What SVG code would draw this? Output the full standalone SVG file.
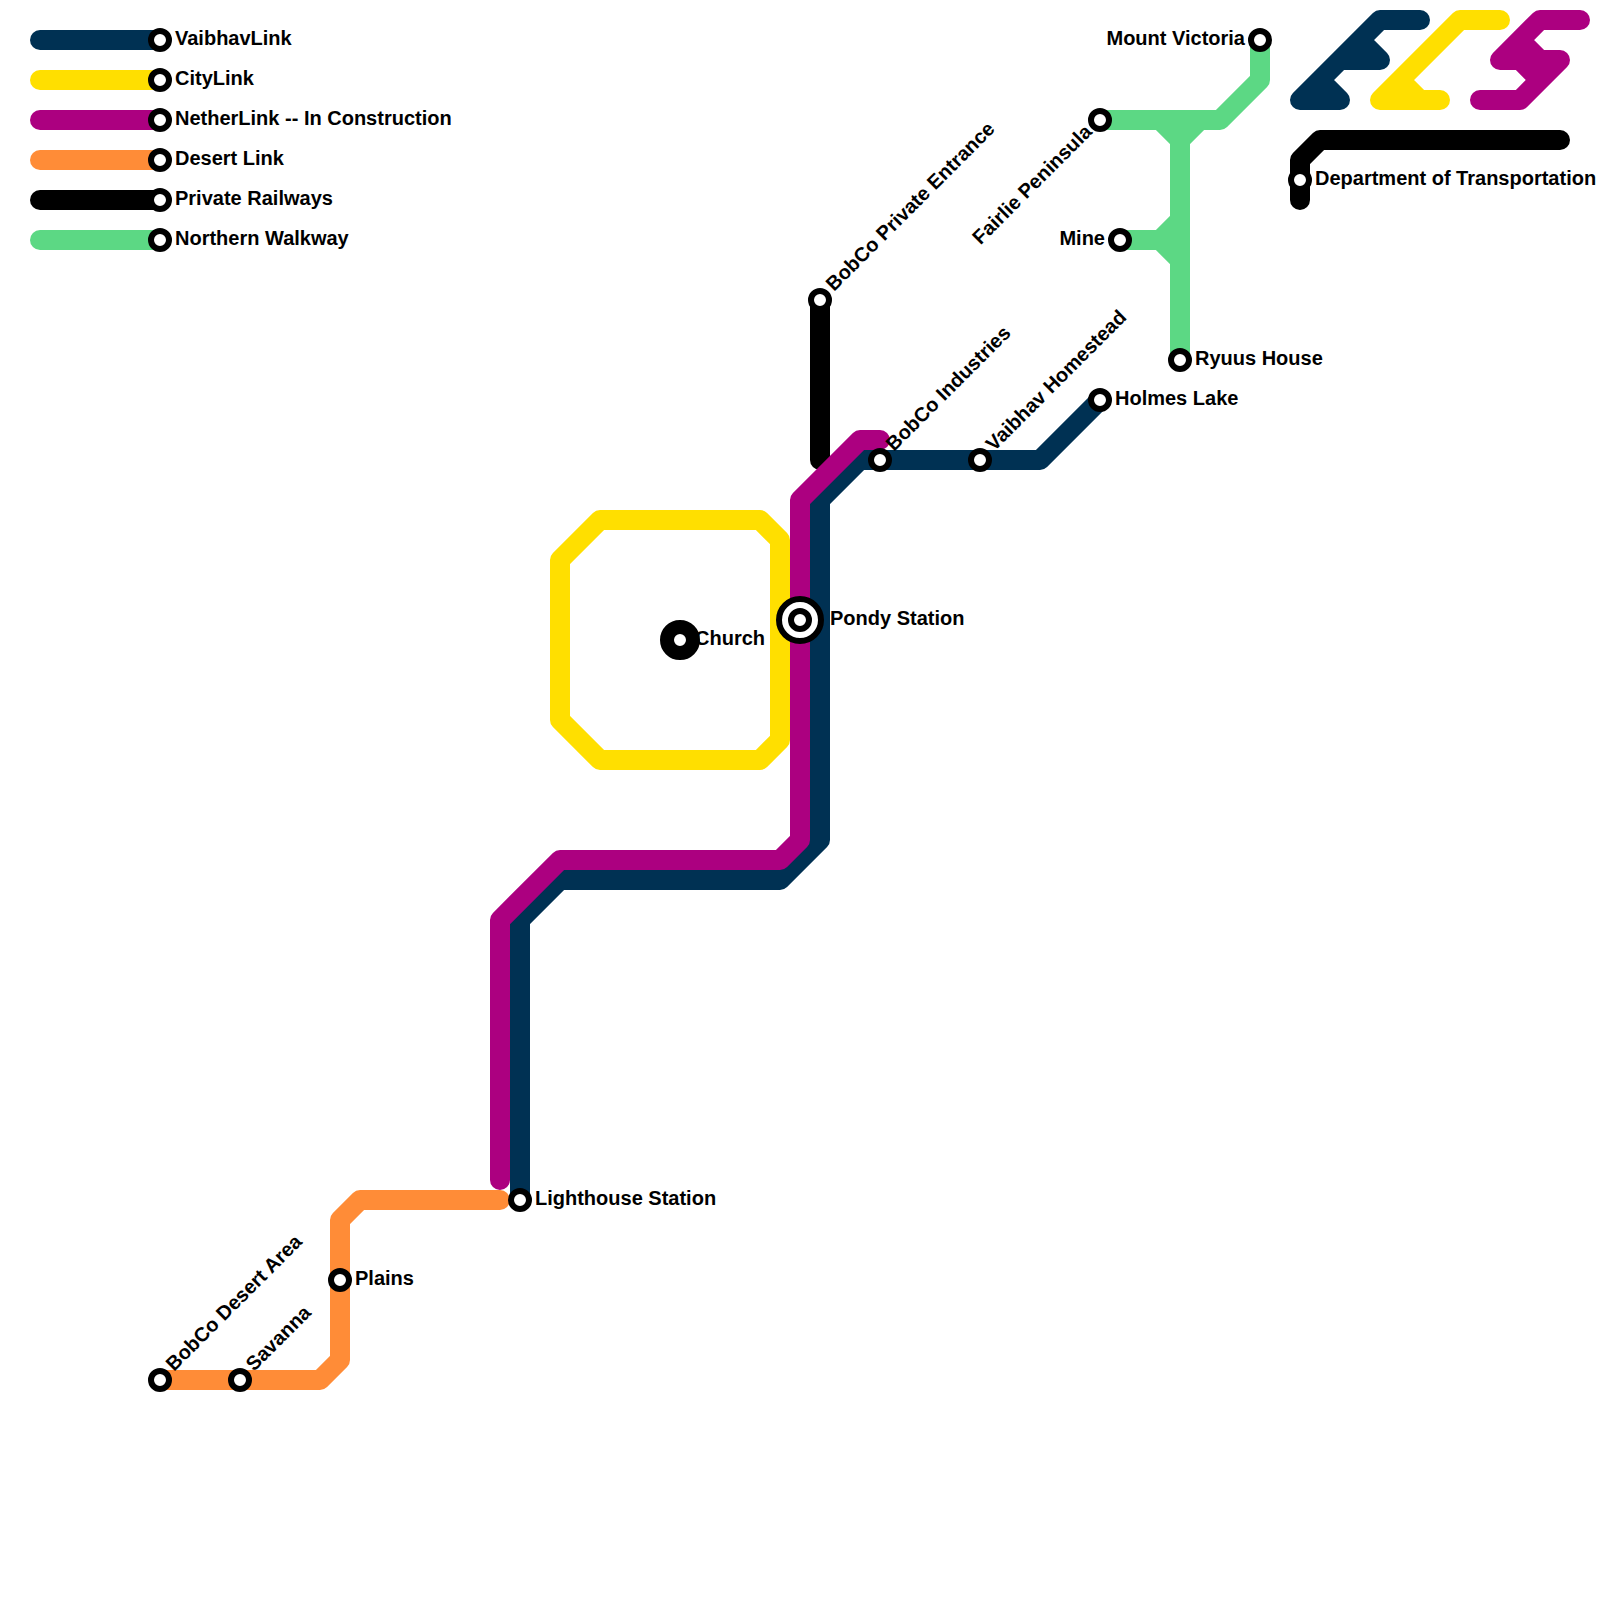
<svg xmlns="http://www.w3.org/2000/svg" width="1600" height="1600" viewBox="0 0 1600 1600">
<style>
.l{fill:none;stroke-width:20;stroke-linecap:round;stroke-linejoin:round}
.navy{stroke:#003153}.yellow{stroke:#ffdf00}.mag{stroke:#ac0080}.orange{stroke:#ff8c37}.black{stroke:#000}.green{stroke:#5cd884}
.s{fill:#fff;stroke:#000;stroke-width:6}
text{font-family:"Liberation Sans",Arial,sans-serif;font-weight:700;font-size:20px;fill:#000}
.e{text-anchor:end}
</style>
<rect width="1600" height="1600" fill="#fff"/>
<g id="connectors">
<path class="l green" d="M40 240H160"/>
<path class="l green" d="M1100 120H1220L1260 80V40M1180 360V140L1160 120M1180 140L1200 120M1120 240H1160L1180 220M1160 240L1180 260"/>
<path class="l black" d="M40 200H160"/>
<path class="l black" d="M820 300V460"/>
<path class="l black" d="M1300 200V160L1320 140H1560"/>
<path class="l orange" d="M40 160H160"/>
<path class="l orange" d="M160 1380H320L340 1360V1220L360 1200H500"/>
<path class="l yellow" d="M40 80H160"/>
<path class="l yellow" d="M600 520H760L780 540V740L760 760H600L560 720V560Z"/>
<path class="l yellow" d="M1380 100L1460 20H1500M1380 100H1440L1420 100L1400 80"/>
<path class="l navy" d="M40 40H160"/>
<path class="l navy" d="M520 1200V920L560 880H780L820 840V500L860 460H1040L1100 400"/>
<path class="l navy" d="M1300 100L1380 20H1420M1340 60H1380L1360 40M1300 100H1340L1320 80"/>
<path class="l mag" d="M40 120H160"/>
<path class="l mag" d="M500 1180V920L560 860H780L800 840V500L860 440H880"/>
<path class="l mag" d="M1480 100H1520L1560 60H1500L1540 20H1580M1520 40L1540 60M1520 60L1540 80"/>
</g>
<g id="legend-vaibhavlink"><circle class="s" cx="160" cy="40" r="9"/><text x="175" y="45">VaibhavLink</text></g>
<g id="legend-citylink"><circle class="s" cx="160" cy="80" r="9"/><text x="175" y="85">CityLink</text></g>
<g id="legend-netherlink"><circle class="s" cx="160" cy="120" r="9"/><text x="175" y="125">NetherLink -- In Construction</text></g>
<g id="legend-desert"><circle class="s" cx="160" cy="160" r="9"/><text x="175" y="165">Desert Link</text></g>
<g id="legend-private"><circle class="s" cx="160" cy="200" r="9"/><text x="175" y="205">Private Railways</text></g>
<g id="legend-northern"><circle class="s" cx="160" cy="240" r="9"/><text x="175" y="245">Northern Walkway</text></g>
<g id="mount-victoria"><circle class="s" cx="1260" cy="40" r="9"/><text class="e" x="1245" y="45">Mount Victoria</text></g>
<g id="fairlie-peninsula"><circle class="s" cx="1100" cy="120" r="9"/><text class="e" transform="translate(1093 133) rotate(-45)">Fairlie Peninsula</text></g>
<g id="mine"><circle class="s" cx="1120" cy="240" r="9"/><text class="e" x="1105" y="245">Mine</text></g>
<g id="ryuus-house"><circle class="s" cx="1180" cy="360" r="9"/><text x="1195" y="365">Ryuus House</text></g>
<g id="holmes-lake"><circle class="s" cx="1100" cy="400" r="9"/><text x="1115" y="405">Holmes Lake</text></g>
<g id="department"><circle class="s" cx="1300" cy="180" r="9"/><text x="1315" y="185">Department of Transportation</text></g>
<g id="bobco-private"><circle class="s" cx="820" cy="300" r="9"/><text transform="translate(834 292) rotate(-45)">BobCo Private Entrance</text></g>
<g id="bobco-industries"><circle class="s" cx="880" cy="460" r="9"/><text transform="translate(894 452) rotate(-45)">BobCo Industries</text></g>
<g id="vaibhav-homestead"><circle class="s" cx="980" cy="460" r="9"/><text transform="translate(994 452) rotate(-45)">Vaibhav Homestead</text></g>
<g id="pondy-station"><circle cx="800" cy="620" r="21" fill="#fff" stroke="#000" stroke-width="6"/><circle class="s" cx="800" cy="620" r="9"/><text x="830" y="625">Pondy Station</text></g>
<g id="church"><circle cx="680" cy="640" r="13" fill="#fff" stroke="#000" stroke-width="14"/><text x="695" y="645">Church</text></g>
<g id="lighthouse-station"><circle class="s" cx="520" cy="1200" r="9"/><text x="535" y="1205">Lighthouse Station</text></g>
<g id="plains"><circle class="s" cx="340" cy="1280" r="9"/><text x="355" y="1285">Plains</text></g>
<g id="savanna"><circle class="s" cx="240" cy="1380" r="9"/><text transform="translate(254 1372) rotate(-45)">Savanna</text></g>
<g id="bobco-desert"><circle class="s" cx="160" cy="1380" r="9"/><text transform="translate(174 1372) rotate(-45)">BobCo Desert Area</text></g>
</svg>
